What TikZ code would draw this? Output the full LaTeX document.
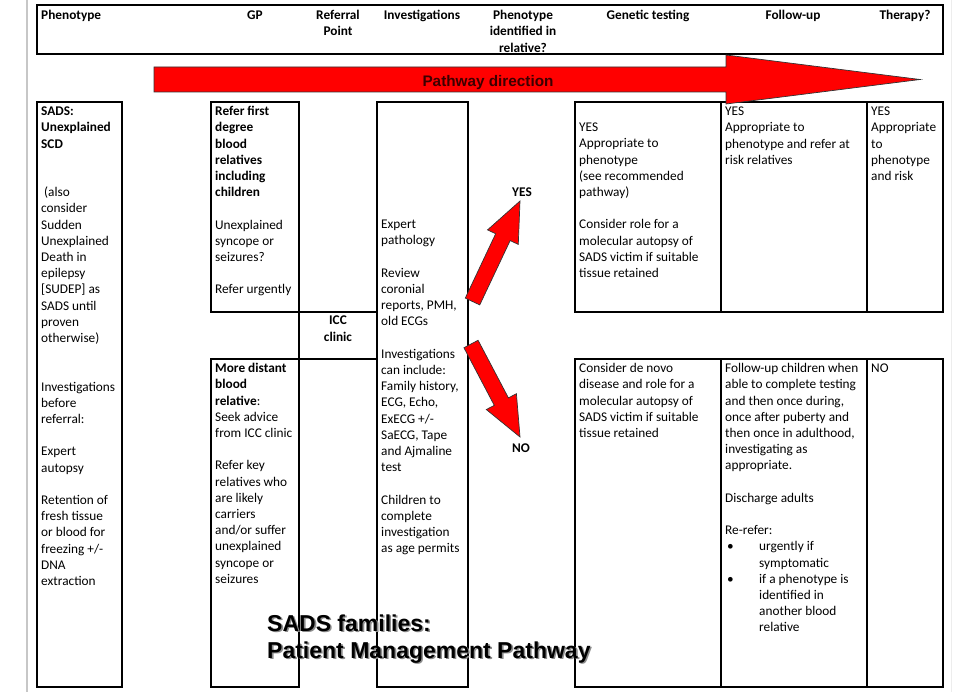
\documentclass[tikz,border=0pt]{standalone}
\usepackage{fontspec}
\setmainfont{Carlito}
\newfontfamily\arialfont{Liberation Sans}
\usetikzlibrary{calc}

\newcommand{\cellsize}{\fontsize{13.3}{16.2}\selectfont}
% block arrow from #1 to #2
\newcommand{\fatarrow}[2]{%
\coordinate (hb) at ($(#2)!40pt!(#1)$);
\filldraw[redarrow] ($(#1)!8pt!90:(#2)$) -- ($(hb)!8pt!90:(#2)$) -- ($(hb)!17pt!90:(#2)$) -- (#2)
  -- ($(hb)!17pt!-90:(#2)$) -- ($(hb)!8pt!-90:(#2)$) -- ($(#1)!8pt!-90:(#2)$) -- cycle;}

\begin{document}
\begin{tikzpicture}[x=1pt,y=-1pt,
  box/.style={line width=1.1pt},
  cell/.style={anchor=north west, inner sep=0pt, align=left, font=\cellsize},
  head/.style={anchor=north, inner sep=0pt, align=center, font=\cellsize\bfseries},
  redarrow/.style={fill=red, draw=black!80, line width=0.7pt}]
\useasboundingbox (0,0) rectangle (979,692);
\draw[black!22, line width=2pt] (27,0) -- (27,692);
\draw[black!7, line width=1pt] (951,0) -- (951,692);

% header row
\draw[box] (37,5) rectangle (943,54);
\node[cell, font=\cellsize\bfseries] (hphen) at (41,8.2) {\strut Phenotype};
\node[head] (hgp) at (255,8.2) {\strut GP};
\node[head] (href) at (338,8.2) {\strut Referral\\Point};
\node[head] (hinv) at (422,8.2) {\strut Investigations};
\node[head] (hrel) at (523,8.2) {\strut Phenotype\\identified in\\relative?};
\node[head] (hgen) at (648,8.2) {\strut Genetic testing};
\node[head] (hfol) at (793,8.2) {\strut Follow-up};
\node[head] (hther) at (905,8.2) {\strut Therapy?};

% columns
\draw[box] (37,102) rectangle (122,687);
\draw[box] (211,102) rectangle (299,312);
\draw[box] (211,359) rectangle (299,687);
\draw[box] (299,312) rectangle (377,359);
\draw[box] (377,102) rectangle (468,687);
\foreach \ya/\yb in {102/312, 359/687}{
  \draw[box] (575,\ya) rectangle (943,\yb);
  \draw[box] (721,\ya) -- (721,\yb);
  \draw[box] (867,\ya) -- (867,\yb);
}

\node[cell] (sads) at (41,104.2) {\strut\textbf{SADS:}\\\textbf{Unexplained}\\\textbf{SCD}\\[32.4pt]
  \hspace{3pt}(also\\consider\\Sudden\\Unexplained\\Death in\\epilepsy\\{[SUDEP]} as\\SADS until\\proven\\otherwise)\\[32.4pt]
  Investigations\\before\\referral:\\[16.2pt]Expert\\autopsy\\[16.2pt]Retention of\\fresh tissue\\or blood for\\freezing +/-\\DNA\\extraction};

\node[cell] (gpfirst) at (215,104.2) {\strut\textbf{Refer first}\\\textbf{degree}\\\textbf{blood}\\\textbf{relatives}\\\textbf{including}\\\textbf{children}\\[16.2pt]
  Unexplained\\syncope or\\seizures?\\[16.2pt]Refer urgently};
\node[cell] (gpdist) at (215,361.2) {\strut\textbf{More distant}\\\textbf{blood}\\\textbf{relative}:\\Seek advice\\from ICC clinic\\[16.2pt]
  Refer key\\relatives who\\are likely\\carriers\\and/or suffer\\unexplained\\syncope or\\seizures};
\node[head] (icc) at (338,313.4) {\strut ICC\\clinic};

\node[cell] (inv) at (381,217.2) {\strut Expert\\pathology\\[16.2pt]Review\\coronial\\reports, PMH,\\old ECGs\\[16.2pt]
  Investigations\\can include:\\Family history,\\ECG, Echo,\\ExECG +/-\\SaECG, Tape\\and Ajmaline\\test\\[16.2pt]
  Children to\\complete\\investigation\\as age permits};

\node[cell] (genyes) at (579,120.2) {\strut YES\\Appropriate to\\phenotype\\(see recommended\\pathway)\\[16.2pt]
  Consider role for a\\molecular autopsy of\\SADS victim if suitable\\tissue retained};
\node[cell] (folyes) at (725,104.2) {\strut YES\\Appropriate to\\phenotype and refer at\\risk relatives};
\node[cell] (theryes) at (871,104.2) {\strut YES\\Appropriate\\to\\phenotype\\and risk};

\node[cell] (genno) at (579,361.2) {\strut Consider de novo\\disease and role for a\\molecular autopsy of\\SADS victim if suitable\\tissue retained};
\node[cell] (folno) at (725,361.2) {\strut Follow-up children when\\able to complete testing\\and then once during,\\once after puberty and\\then once in adulthood,\\investigating as\\appropriate.\\[16.2pt]
  Discharge adults\\[16.2pt]Re-refer:\\
  \hspace{2pt}\makebox[32pt][l]{\textbullet}urgently if\\\hspace{34pt}symptomatic\\
  \hspace{2pt}\makebox[32pt][l]{\textbullet}if a phenotype is\\\hspace{34pt}identified in\\\hspace{34pt}another blood\\\hspace{34pt}relative};
\node[cell] (therno) at (871,361.2) {\strut NO};

% pathway direction
\filldraw[redarrow] (154,67) -- (726,67) -- (726,55) -- (920,79.5) -- (726,104) -- (726,92) -- (154,92) -- cycle;
\node[font=\arialfont\bfseries\fontsize{15.3}{18}\selectfont, text={rgb,255:red,60;green,0;blue,0}] (path) at (488,82.5) {Pathway direction};

% yes / no
\node[font=\cellsize\bfseries, inner sep=1pt] (yes) at (522,192) {YES};
\node[font=\cellsize\bfseries, inner sep=1pt] (no) at (521,448) {NO};
\coordinate (yestail) at (472.5,301.5);
\coordinate (yestip) at (520,201);
\coordinate (notail) at (471,344);
\coordinate (notip) at (520,437);
\fatarrow{yestail}{yestip}
\fatarrow{notail}{notip}

% title
\node[anchor=north west, inner sep=0pt, align=left, text=black!45, font=\arialfont\bfseries\fontsize{23}{27}\selectfont] (titleshadow) at (268.6,613.6) {\strut SADS families:\\Patient Management Pathway};
\node[anchor=north west, inner sep=0pt, align=left, font=\arialfont\bfseries\fontsize{23}{27}\selectfont] (title) at (267,612) {\strut SADS families:\\Patient Management Pathway};

\end{tikzpicture}
\end{document}
